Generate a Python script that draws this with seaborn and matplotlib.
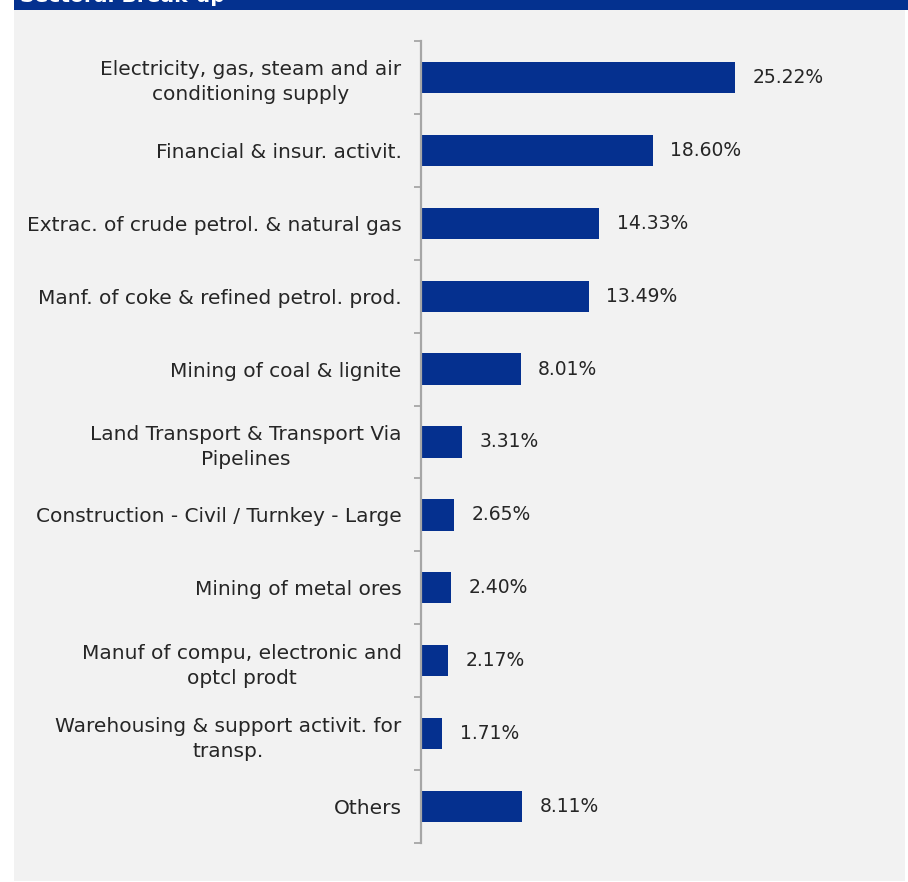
import matplotlib
matplotlib.use("Agg")
import matplotlib.pyplot as plt
import seaborn as sns
import pandas as pd
from matplotlib.patches import Rectangle

# Sector shares of total credit (%)
sectors = [
    "Electricity, gas, steam and air\nconditioning supply",
    "Financial & insur. activit.",
    "Extrac. of crude petrol. & natural gas",
    "Manf. of coke & refined petrol. prod.",
    "Mining of coal & lignite",
    "Land Transport & Transport Via\nPipelines",
    "Construction - Civil / Turnkey - Large",
    "Mining of metal ores",
    "Manuf of compu, electronic and\noptcl prodt",
    "Warehousing & support activit. for\ntransp.",
    "Others",
]
shares = [25.22, 18.60, 14.33, 13.49, 8.01, 3.31, 2.65, 2.40, 2.17, 1.71, 8.11]
title = "Sectoral Break-up"

BAR = "#05308F"
PANEL = "#F2F2F2"
TEXT = "#262626"
SPINE = "#A6A6A6"

sns.set_theme(style="white")
plt.rcParams["font.family"] = ["DejaVu Sans"]

W, H = 908, 882
fig = plt.figure(figsize=(W / 100, H / 100), dpi=100, facecolor="white")

# grey panel and header band, kept behind the axes
fig.patches.append(Rectangle((14 / W, 1 / H), (905 - 14) / W, (872 - 1) / H,
                             transform=fig.transFigure, facecolor=PANEL,
                             edgecolor="none", zorder=-10))
fig.patches.append(Rectangle((14 / W, 1 - 10 / H), (W - 14) / W, 10 / H,
                             transform=fig.transFigure, facecolor="#04318F",
                             edgecolor="none", zorder=-9))
fig.text(20 / W, 1 - 2.2 / H, title, color="white", fontsize=14.5,
         fontweight="bold", va="baseline", ha="left", zorder=-8)

x0, x1 = 421, 794.5
y_top, y_bot = 41, 843
ax = fig.add_axes([x0 / W, (H - y_bot) / H, (x1 - x0) / W, (y_bot - y_top) / H])
ax.set_facecolor("none")
ax.set_zorder(2)

df = pd.DataFrame({"sector": sectors, "share": shares})
sns.barplot(data=df, y="sector", x="share", orient="h", color=BAR,
            saturation=1, width=0.43, ax=ax, edgecolor="none")

ax.set_xlim(0, 30)
ax.set_ylim(len(sectors) - 0.5, -0.5)
ax.set_xlabel("")
ax.set_ylabel("")
ax.set_xticks([])

# category names as minor ticks, boundary marks as major ticks
ax.set_yticks([i - 0.5 for i in range(len(sectors) + 1)])
ax.set_yticklabels([])
ax.set_yticks(range(len(sectors)), minor=True)
ax.set_yticklabels(sectors, minor=True, fontsize=14.5, color=TEXT,
                   multialignment="center", linespacing=1.4)
ax.tick_params(axis="y", which="major", length=5, width=1.3, color=SPINE,
               left=True)
ax.tick_params(axis="y", which="minor", length=0, pad=14)

for s in ["top", "right", "bottom"]:
    ax.spines[s].set_visible(False)
ax.spines["left"].set_color(SPINE)
ax.spines["left"].set_linewidth(1.6)

for i, v in enumerate(shares):
    ax.annotate(f"{v:.2f}%", xy=(v, i), xytext=(12.5, 0),
                textcoords="offset points", va="center", ha="left",
                fontsize=13.5, color=TEXT, annotation_clip=False)

fig.savefig("out.png", dpi=100, facecolor="white")
